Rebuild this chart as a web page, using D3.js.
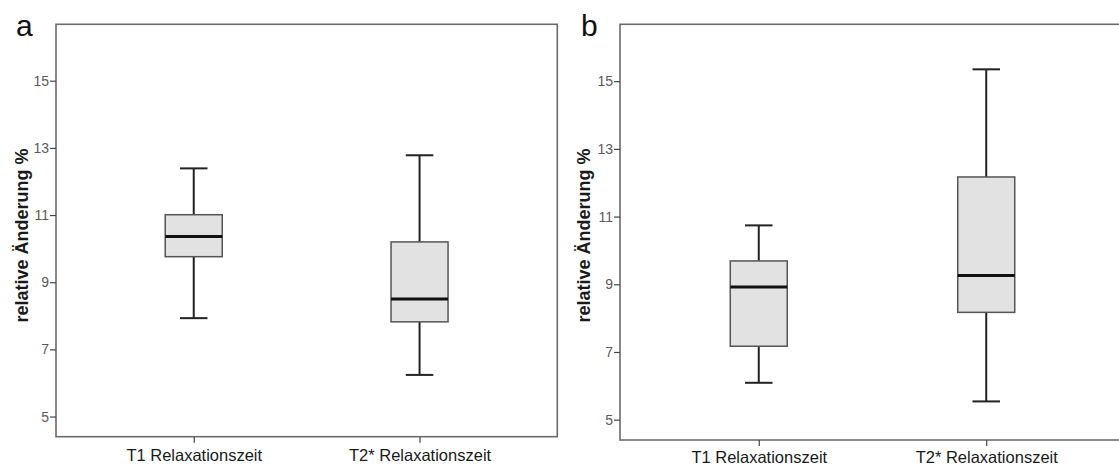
<!DOCTYPE html>
<html>
<head>
<meta charset="utf-8">
<script src="https://cdn.jsdelivr.net/npm/d3@7"></script>
<style>
  html, body { margin: 0; padding: 0; background: #ffffff; }
  svg { display: block; font-family: "Liberation Sans", Arial, sans-serif; }
</style>
</head>
<body>
<svg id="chart" width="1119" height="466"></svg>
<script>
// ---- data ----
const categories = ["T1 Relaxationszeit", "T2* Relaxationszeit"];
const panelLetters = ["a", "b"];
const yTicks = [5, 7, 9, 11, 13, 15];
const yTitle = "relative Änderung %";

// panel a
const lowA  = [7.93, 6.24];
const q1A   = [9.76, 7.82];
const medA  = [10.36, 8.50];
const q3A   = [11.01, 10.20];
const highA = [12.39, 12.78];

// panel b
const lowB  = [6.09, 5.54];
const q1B   = [7.17, 8.17];
const medB  = [8.92, 9.26];
const q3B   = [9.69, 12.17];
const highB = [10.74, 15.35];

const panels = [
  { letter: panelLetters[0], low: lowA, q1: q1A, med: medA, q3: q3A, high: highA,
    x0: 56, x1: 557.3, y0: 24.3, y1: 436.7, titleX: 28, letterX: 16, labPad: 7 },
  { letter: panelLetters[1], low: lowB, q1: q1B, med: medB, q3: q3B, high: highB,
    x0: 620, x1: 1125, y0: 24.3, y1: 440, titleX: 590, letterX: 581, labPad: 5 }
];

const svg = d3.select("#chart");

panels.forEach(p => {
  const g = svg.append("g");
  const y = d3.scaleLinear().domain([4.4, 16.68]).range([p.y1, p.y0]);
  const x = d3.scalePoint().domain(categories).range([p.x0, p.x1]).padding(0.61);
  const boxW = 57, capW = 27.5;

  // frame
  g.append("rect")
    .attr("x", p.x0).attr("y", p.y0)
    .attr("width", p.x1 - p.x0).attr("height", p.y1 - p.y0)
    .attr("fill", "none").attr("stroke", "#6b6b6b").attr("stroke-width", 1.6);

  // y axis
  const ya = g.append("g").attr("transform", `translate(${p.x0},0)`)
    .call(d3.axisLeft(y).tickValues(yTicks).tickSize(6).tickPadding(1).tickSizeOuter(0));
  ya.select(".domain").remove();
  ya.selectAll(".tick line").attr("stroke", "#444").attr("stroke-width", 1.2);
  ya.selectAll(".tick text").attr("fill", "#5a5a5a").attr("font-size", 14)
    .attr("font-family", "Liberation Sans, Arial, sans-serif");

  // x axis
  const xa = g.append("g").attr("transform", `translate(0,${p.y1})`)
    .call(d3.axisBottom(x).tickSize(6).tickPadding(p.labPad).tickSizeOuter(0));
  xa.select(".domain").remove();
  xa.selectAll(".tick line").attr("stroke", "#444").attr("stroke-width", 1.2);
  xa.selectAll(".tick text").attr("fill", "#1a1a1a").attr("font-size", 16.5)
    .attr("font-family", "Liberation Sans, Arial, sans-serif");

  // y title
  const cy = (148 + 323) / 2;
  g.append("text")
    .attr("transform", `translate(${p.titleX},${cy}) rotate(-90)`)
    .attr("text-anchor", "middle")
    .attr("font-size", 18).attr("font-weight", "bold").attr("fill", "#1a1a1a")
    .text(yTitle);

  // panel letter
  g.append("text")
    .attr("x", p.letterX).attr("y", 36)
    .attr("font-size", 30).attr("fill", "#111")
    .text(p.letter);

  // boxes
  categories.forEach((c, i) => {
    const cx = x(c);
    g.append("line").attr("x1", cx).attr("x2", cx)
      .attr("y1", y(p.high[i])).attr("y2", y(p.q3[i]))
      .attr("stroke", "#222").attr("stroke-width", 2);
    g.append("line").attr("x1", cx).attr("x2", cx)
      .attr("y1", y(p.q1[i])).attr("y2", y(p.low[i]))
      .attr("stroke", "#222").attr("stroke-width", 2);
    [p.high[i], p.low[i]].forEach(v => {
      g.append("line").attr("x1", cx - capW / 2).attr("x2", cx + capW / 2)
        .attr("y1", y(v)).attr("y2", y(v))
        .attr("stroke", "#222").attr("stroke-width", 2);
    });
    g.append("rect")
      .attr("x", cx - boxW / 2).attr("y", y(p.q3[i]))
      .attr("width", boxW).attr("height", y(p.q1[i]) - y(p.q3[i]))
      .attr("fill", "#e2e2e2").attr("stroke", "#555").attr("stroke-width", 1.5);
    g.append("line").attr("x1", cx - boxW / 2).attr("x2", cx + boxW / 2)
      .attr("y1", y(p.med[i])).attr("y2", y(p.med[i]))
      .attr("stroke", "#111").attr("stroke-width", 3);
  });
});
</script>
</body>
</html>
